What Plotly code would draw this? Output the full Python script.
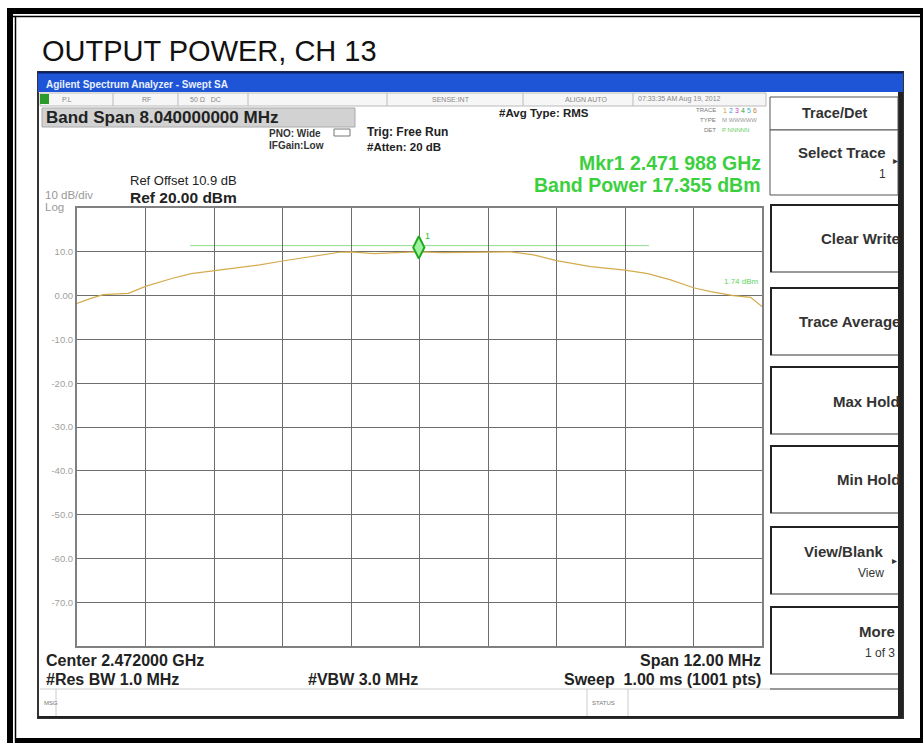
# spectrum analyzer screenshot: output power, ch 13

import plotly.graph_objects as go

W, H = 923, 743

freq_ghz = [2.4660, 2.46623, 2.46646, 2.4669, 2.4672, 2.46766, 2.4680, 2.4684, 2.4692,
            2.4696, 2.47025, 2.4706, 2.4708, 2.4712, 2.4716, 2.471988, 2.4724,
            2.4728, 2.4732, 2.4736, 2.4740, 2.4744, 2.4750, 2.4756, 2.4760,
            2.4764, 2.4768, 2.4771, 2.4775, 2.4778, 2.4780]
level_dbm = [-1.8, -0.7, 0.2, 0.5, 2.1, 3.9, 5.0, 5.7, 7.0,
             7.9, 9.3, 9.9, 10.0, 9.6, 9.8, 10.0, 9.8,
             9.9, 10.0, 10.0, 9.3, 8.0, 6.6, 5.8, 5.0,
             3.6, 1.8, 0.9, 0.0, -0.4, -2.5]

marker_freq = [2.471988]
marker_level = [11.0]

center_ghz = 2.472
span_ghz = 0.012
band_edges_ghz = [2.46798, 2.47602]
band_line_dbm = 11.4
display_line_dbm = [1.8, 0.0]

y_ticks = [10, 0, -10, -20, -30, -40, -50, -60, -70]
y_tick_text = ["10.0", "0.00", "-10.0", "-20.0", "-30.0", "-40.0", "-50.0", "-60.0", "-70.0"]

softkeys = [("Clear Write", ""), ("Trace Average", ""), ("Max Hold", ""),
            ("Min Hold", ""), ("View/Blank", "View"), ("More", "1 of 3")]

FONT = "Liberation Sans, Arial, sans-serif"


def px(x):
    return x / W


def py(y):
    return 1 - y / H


shapes = []
annotations = []


def rect(x0, y0, x1, y1, fill=None, line=None, lw=1):
    shapes.append(dict(type="rect", xref="paper", yref="paper",
                       x0=px(x0), x1=px(x1), y0=py(y1), y1=py(y0),
                       fillcolor=fill or "rgba(0,0,0,0)",
                       line=dict(color=line or "rgba(0,0,0,0)", width=lw if line else 0),
                       layer="below"))


def hline(x0, x1, y, color, lw=1, layer="below"):
    shapes.append(dict(type="line", xref="paper", yref="paper",
                       x0=px(x0), x1=px(x1), y0=py(y), y1=py(y),
                       line=dict(color=color, width=lw), layer=layer))


def vline(x, y0, y1, color, lw=1, layer="below"):
    shapes.append(dict(type="line", xref="paper", yref="paper",
                       x0=px(x), x1=px(x), y0=py(y0), y1=py(y1),
                       line=dict(color=color, width=lw), layer=layer))


def text(x, y, s, size=12, color="#222", bold=False, anchor="left", family=FONT):
    if bold:
        s = "<b>" + s + "</b>"
    annotations.append(dict(xref="paper", yref="paper", x=px(x), y=py(y), text=s,
                            showarrow=False, xanchor=anchor, yanchor="middle",
                            font=dict(size=size, color=color, family=family)))


# outer document frame
rect(7, 8, 923, 14, fill="black")
hline(7, 923, 16.5, "black", 1.5)
rect(7, 8, 13, 743, fill="black")
vline(15.5, 16, 743, "black", 1.5)
rect(16, 738, 923, 743, fill="black")
vline(921.5, 8, 743, "black", 3)

text(40, 51, "OUTPUT POWER, CH 13", size=29, color="#111")

# analyzer window
rect(38, 72, 903, 718, fill="white", line="#333", lw=2)
rect(38, 72, 903, 92, fill="#1d55d6")
hline(38, 903, 72.5, "#0b1f66", 2)
text(44, 84, "Agilent Spectrum Analyzer - Swept SA", size=10, color="#e8f0ff", bold=True)
rect(898, 92, 903, 718, fill="#222")
hline(38, 903, 717, "#222", 2)

# status row
rect(40, 93, 766, 106, fill="#f6f6f6", line="#bbb")
rect(40, 94, 49, 104, fill="#2a9a2a")
for sx in [113, 178, 248, 387, 523, 633]:
    vline(sx, 93, 106, "#bbb")
for sx, s in [(60, "P.L"), (140, "RF"), (188, "50 \u03a9   DC"), (430, "SENSE:INT"),
              (563, "ALIGN AUTO"), (636, "07:33:35 AM Aug 19, 2012")]:
    text(sx, 99.5, s, size=7, color="#888")

rect(42, 108, 355, 127, fill="#d2d2d2", line="#aaa")
text(44, 117.5, "Band Span 8.040000000 MHz", size=17, color="#222", bold=True)

text(267, 133, "PNO: Wide", size=10, color="#333", bold=True)
rect(334, 129, 350, 136, line="#777")
text(267, 146, "IFGain:Low", size=10, color="#333", bold=True)
text(365, 132, "Trig: Free Run", size=12, color="#222", bold=True)
text(365, 147, "#Atten: 20 dB", size=11.5, color="#222", bold=True)
text(497, 113, "#Avg Type: RMS", size=11.5, color="#222", bold=True)

text(718, 110, "TRACE", size=6, color="#777", anchor="right")
text(721, 110, "1", size=7, color="#c8a030")
text(727, 110, "2", size=7, color="#3a9ae0")
text(733, 110, "3", size=7, color="#d040c0")
text(739, 110, "4", size=7, color="#30a030")
text(745, 110, "5", size=7, color="#40b0d0")
text(751, 110, "6", size=7, color="#c08040")
text(718, 120, "TYPE", size=6, color="#777", anchor="right")
text(720, 120, "M WWWWW", size=6, color="#999")
text(718, 130, "DET", size=6, color="#777", anchor="right")
text(720, 130, "P NNNNN", size=6, color="#6c6")

text(763, 163, "Mkr1 2.471 988 GHz", size=19.5, color="#3cd040", bold=True, anchor="right")
text(763, 185, "Band Power 17.355 dBm", size=19.5, color="#3cd040", bold=True, anchor="right")

text(128, 180, "Ref Offset 10.9 dB", size=13, color="#222")
text(128, 197, "Ref 20.00 dBm", size=15.5, color="#222", bold=True)
text(43, 195, "10 dB/div", size=11.5, color="#999")
text(43, 207, "Log", size=11.5, color="#999")

# below graticule
text(44, 660, "Center 2.472000 GHz", size=16, color="#222", bold=True)
text(44, 679, "#Res BW 1.0 MHz", size=16, color="#222", bold=True)
text(306, 679, "#VBW 3.0 MHz", size=16, color="#222", bold=True)
text(763, 660, "Span 12.00 MHz", size=16, color="#222", bold=True, anchor="right")
text(763, 679, "Sweep  1.00 ms (1001 pts)", size=16, color="#222", bold=True, anchor="right")
hline(40, 898, 689, "#ccc")
vline(56, 689, 716, "#ccc")
text(42, 703, "MSG", size=6, color="#777")
vline(587, 689, 716, "#ccc")
vline(628, 689, 716, "#ccc")
text(590, 703, "STATUS", size=6, color="#777")

# softkey panel
rect(770, 97, 898, 130, fill="white", line="#555")
text(834, 113, "Trace/Det", size=14.5, color="#333", bold=True, anchor="center")
rect(770, 130, 898, 195, fill="white", line="#555")
text(888, 152, "Select Trace", size=15, color="#333", bold=True, anchor="right")
text(888, 174, "1", size=12, color="#333", anchor="right")
text(895, 160, "\u25b8", size=10, color="#333", anchor="center")
key_tops = [205, 288, 367, 446, 527, 607]
for (k1, k2), top in zip(softkeys, key_tops):
    hline(770, 898, top, "#222", 2)
    hline(770, 898, top + 67, "#999", 2)
    vline(771, top, top + 67, "#222", 2)
    mid = top + 34
    if k2:
        tx = 886 if k1 == "View/Blank" else 897
        text(tx, mid - 10, k1, size=15, color="#333", bold=True, anchor="right")
        text(tx, mid + 12, k2, size=12, color="#333", anchor="right")
    else:
        text(902, mid, k1, size=15, color="#333", bold=True, anchor="right")
text(894, 560, "\u25b8", size=10, color="#333", anchor="center")
hline(770, 898, 689, "#999", 2)

fig = go.Figure()

# band edge halo + lines
for edge in band_edges_ghz:
    fig.add_vline(x=edge, line=dict(color="rgba(120,220,120,0.12)", width=10), layer="below")
    fig.add_vline(x=edge, line=dict(color="#6ad46a", width=1), layer="below")
for lvl in display_line_dbm:
    fig.add_hline(y=lvl, line=dict(color="#8fdc8f", width=1), layer="below")
fig.add_shape(type="line", x0=band_edges_ghz[0], x1=band_edges_ghz[1],
              y0=band_line_dbm, y1=band_line_dbm, line=dict(color="#8fdc8f", width=1),
              layer="below")

fig.add_trace(go.Scatter(x=freq_ghz, y=level_dbm, mode="lines",
                         line=dict(color="#d4ac4e", width=1.2), hoverinfo="skip"))
fig.add_trace(go.Scatter(x=marker_freq, y=marker_level, mode="markers",
                         marker=dict(symbol="diamond-tall", size=16, color="#9ff09f",
                                     line=dict(color="#1faa1f", width=2)),
                         hoverinfo="skip"))
annotations.append(dict(x=marker_freq[0], y=marker_level[0], xref="x", yref="y",
                        text="1", showarrow=False, xanchor="left", yanchor="bottom",
                        xshift=4, yshift=4,
                        font=dict(size=9, color="#2cbf2c", family=FONT)))

annotations.append(dict(x=center_ghz + 0.0053, y=display_line_dbm[0], xref="x", yref="y",
                        text="1.74 dBm", showarrow=False, xanchor="left", yanchor="bottom",
                        font=dict(size=8, color="#5fd45f", family=FONT)))

fig.update_xaxes(range=[center_ghz - span_ghz / 2, center_ghz + span_ghz / 2],
                 domain=[px(77), px(762)], tick0=center_ghz - span_ghz / 2,
                 dtick=span_ghz / 10, showticklabels=False, showgrid=True,
                 gridcolor="#6e6e6e", gridwidth=1, zeroline=False,
                 showline=True, mirror=True, linecolor="#808080", linewidth=2)
fig.update_yaxes(range=[-80, 20], domain=[py(646), py(208)],
                 tickvals=y_ticks, ticktext=y_tick_text,
                 tickfont=dict(size=9.5, color="#a0a0a0", family=FONT),
                 showgrid=True, gridcolor="#6e6e6e", gridwidth=1, zeroline=False,
                 showline=True, mirror=True, linecolor="#808080", linewidth=2)

fig.update_layout(width=W, height=H, margin=dict(l=0, r=0, t=0, b=0),
                  paper_bgcolor="white", plot_bgcolor="white",
                  showlegend=False, shapes=list(fig.layout.shapes) + shapes,
                  annotations=annotations,
                  font=dict(family=FONT))

fig.write_html("out.html", config={"displayModeBar": False},
               post_script="document.body.style.margin='0';")
